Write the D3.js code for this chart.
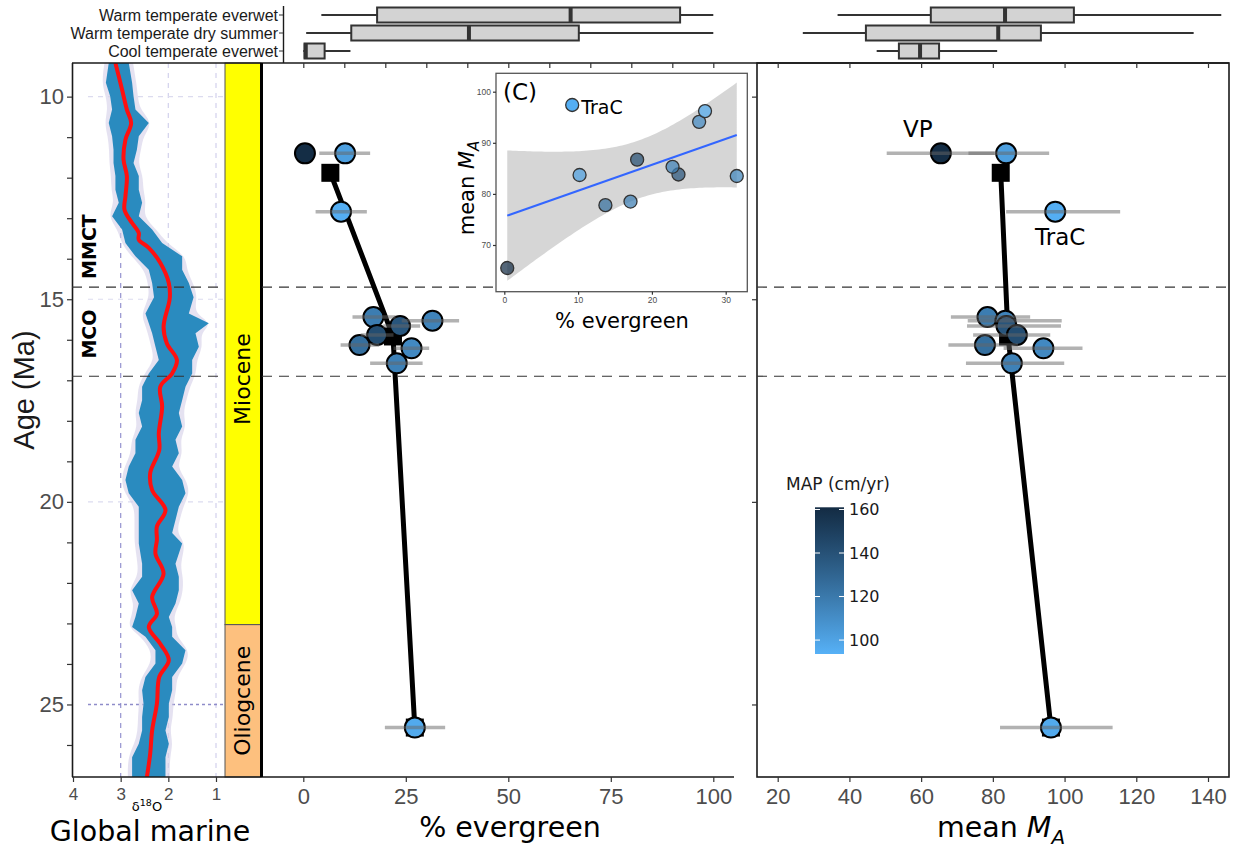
<!DOCTYPE html>
<head>
  <meta charset="utf-8">
  <script src="https://d3js.org/d3.v7.min.js"></script>
  <style>
    body { margin: 0; background: #fff; }
    text { font-family: "DejaVu Sans", Verdana, sans-serif; }
    .axis text { font-family: "Liberation Sans", Arial, sans-serif; fill: #4d4d4d; }
    .axis line { stroke: #333; stroke-width: 1.2px; }
    .axis path { display: none; }
  </style>
</head>
<body>
<svg id="fig" width="1239" height="848"></svg>
<script>

// ---- data ----
// global marine d18O stack
var isoAge  = [9.17, 9.66, 9.99, 10.32, 10.65, 10.98, 11.31, 11.64, 11.96, 12.30, 12.62, 12.95, 13.28, 13.61, 13.94,
               14.27, 14.60, 14.95, 15.35, 15.59, 15.84, 16.17, 16.50, 16.83, 17.16, 17.49, 17.81, 18.14, 18.47, 18.80,
               19.13, 19.46, 19.79, 20.12, 20.45, 20.77, 21.03, 21.53, 21.85, 22.18, 22.51, 22.84, 23.09, 23.33, 23.66,
               23.99, 24.32, 24.65, 24.98, 25.31, 25.64, 25.97, 26.30, 26.79];
var isoHigh = [3.25, 3.31, 3.22, 3.18, 3.25, 3.18, 3.15, 3.15, 3.11, 3.11, 3.04, 3.18, 2.97, 2.90, 2.69,
               2.41, 2.34, 2.30, 2.48, 2.41, 2.34, 2.27, 2.20, 2.41, 2.55, 2.55, 2.62, 2.55, 2.69, 2.69,
               2.83, 2.90, 2.83, 2.62, 2.62, 2.62, 2.62, 2.55, 2.55, 2.76, 2.62, 2.69, 2.76, 2.48, 2.27,
               2.27, 2.48, 2.55, 2.52, 2.55, 2.55, 2.62, 2.76, 2.76];
var isoLow  = [2.83, 2.76, 2.73, 2.69, 2.41, 2.62, 2.66, 2.73, 2.62, 2.62, 2.55, 2.62, 2.34, 2.13, 1.71,
               1.71, 1.57, 1.47, 1.57, 1.15, 1.43, 1.36, 1.50, 1.50, 1.64, 1.71, 1.78, 1.71, 1.85, 1.78,
               1.92, 1.71, 1.64, 1.78, 1.85, 1.92, 1.71, 1.85, 1.78, 1.78, 1.85, 1.99, 1.92, 1.92, 1.64,
               1.71, 1.92, 1.92, 1.99, 1.99, 2.06, 1.99, 2.06, 2.06];
var smoothAge = [9.17, 9.83, 10.32, 10.65, 11.06, 11.55, 11.96, 12.46, 12.79, 13.12, 13.36, 13.53, 13.73, 14.10, 14.60,
                 14.97, 15.68, 16.09, 16.50, 16.83, 17.16, 17.65, 18.31, 18.72, 19.29, 19.71, 20.20, 20.61, 20.94, 21.28,
                 21.77, 22.35, 22.76, 23.09, 23.50, 23.91, 24.32, 24.98, 25.64, 26.21, 26.79];
var smoothD18 = [3.11, 2.97, 2.87, 2.78, 2.90, 2.94, 2.87, 2.90, 2.92, 2.76, 2.62, 2.62, 2.41, 2.17, 1.99,
                 1.97, 2.10, 2.03, 1.82, 1.92, 2.17, 2.13, 2.20, 2.19, 2.38, 2.34, 2.06, 2.24, 2.24, 2.27,
                 2.10, 2.34, 2.24, 2.41, 2.17, 1.99, 2.19, 2.24, 2.34, 2.38, 2.45];

var epochName  = ["Miocene", "Oliogcene"];
var epochStart = [5.33, 23.03];
var epochEnd   = [23.03, 33.9];
var epochLabelAge = [16.97, 24.91];
var eventName = ["MMCT", "MCO"];
var eventAge  = [13.70, 15.86];
var mcoBounds = [14.7, 16.9];

// fossil sites
var siteLabel   = ["VP", "", "TraC", "", "", "", "", "", "", "", ""];
var siteGroup   = [1, 1, 1, 2, 2, 2, 2, 2, 2, 2, 3];
var siteAge     = [11.40, 11.40, 12.84, 15.44, 15.53, 15.66, 15.88, 16.13, 16.21, 16.58, 25.57];
var evergreen   = [0.4, 10.2, 9.2, 17.1, 31.5, 23.6, 18.0, 13.7, 26.4, 22.8, 27.2];
var evergreenLo = [0.4, 3.9, 3.0, 12.0, 24.0, 19.5, 14.0, 9.1, 22.0, 16.3, 19.9];
var evergreenHi = [0.4, 16.3, 15.5, 22.5, 38.0, 28.5, 22.0, 18.5, 30.7, 29.1, 34.6];
var meanMA      = [65.5, 83.7, 97.4, 78.5, 83.5, 83.8, 86.7, 77.8, 94.1, 85.3, 96.2];
var meanMALo    = [50.4, 73.2, 83.7, 68.3, 73.0, 72.8, 74.5, 67.6, 83.0, 72.5, 82.0];
var meanMAHi    = [80.5, 95.7, 115.5, 90.4, 99.2, 99.0, 96.0, 87.0, 105.0, 99.9, 113.4];
var mapCm       = [160, 102, 95, 118, 115, 138, 142, 125, 112, 116, 97];

// modern climate zones: [min, q1, median, q3, max]
var climateZones = ["Warm temperate everwet", "Warm temperate dry summer", "Cool temperate everwet"];
var everBox = [[4.4, 18.0, 65.2, 91.9, 100], [0.7, 11.7, 40.4, 67.2, 100], [0, 0.3, 0.6, 5.2, 11.5]];
var maBox   = [[36.7, 62.7, 83.4, 102.6, 143.7], [27.0, 44.6, 81.5, 93.4, 136.0], [47.6, 53.8, 59.7, 65.0, 81.2]];

var mapTicks = [100, 120, 140, 160];

// ---- scales ----
var svg = d3.select("#fig");
var yTop = 63, yBot = 777;

var yAge = d3.scaleLinear().domain([9.17, 26.79]).range([yTop, yBot]);
var xIso = d3.scaleLinear().domain([4, 1]).range([73, 216]);
var xEver = d3.scaleLinear().domain([0, 100]).range([303.3, 713.3]);
var xMA = d3.scaleLinear().domain([20, 140]).range([777.7, 1208]);
var yZone = d3.scalePoint().domain(climateZones).range([15, 51]);
var mapColor = d3.scaleLinear().domain([93.6, 161]).range(["#56B1F7", "#132B43"]).interpolate(d3.interpolateLab);
var idx = d3.range(siteAge.length);

// ---- d18O panel ----
svg.append("clipPath").attr("id", "isoclip")
  .append("rect").attr("x", 72).attr("y", yTop).attr("width", 153).attr("height", yBot - yTop);

var iso = svg.append("g").attr("clip-path", "url(#isoclip)");

iso.selectAll(".vg").data([3, 2, 1]).enter().append("line")
    .attr("x1", d => xIso(d)).attr("x2", d => xIso(d))
    .attr("y1", yTop).attr("y2", yBot)
    .attr("stroke", d => d == 3 ? "#9d9bd3" : "#d6d5ee")
    .attr("stroke-width", 1.3)
    .attr("stroke-dasharray", "5,5");

iso.selectAll(".hg").data([10, 15, 20, 25]).enter().append("line")
    .attr("x1", 88).attr("x2", 225)
    .attr("y1", d => yAge(d)).attr("y2", d => yAge(d))
    .attr("stroke", d => d == 25 ? "#8e8cc9" : "#dcdbef")
    .attr("stroke-width", d => d == 25 ? 1.6 : 1.2)
    .attr("stroke-dasharray", d => d == 25 ? "3,3" : "5,5");

var haloArea = d3.area()
    .y(i => yAge(isoAge[i]))
    .x0(i => xIso(isoHigh[i] + 0.09))
    .x1(i => xIso(isoLow[i] - 0.09))
    .curve(d3.curveBasis);

var bandArea = d3.area()
    .y(i => yAge(isoAge[i]))
    .x0(i => xIso(isoHigh[i]))
    .x1(i => xIso(isoLow[i]))
    .curve(d3.curveLinear);

var bi = d3.range(isoAge.length);
iso.append("path").datum(bi).attr("d", haloArea)
    .attr("fill", "#d3cee8").attr("opacity", 0.6);
iso.append("path").datum(bi).attr("d", bandArea)
    .attr("fill", "#2a8bbf");

iso.append("path").datum(d3.range(smoothAge.length))
    .attr("d", d3.line().x(i => xIso(smoothD18[i])).y(i => yAge(smoothAge[i])).curve(d3.curveCatmullRom))
    .attr("fill", "none").attr("stroke", "#ff1010").attr("stroke-width", 4);

svg.selectAll(".ev").data(eventName).enter().append("text")
    .attr("transform", (d, i) => "translate(96," + yAge(eventAge[i]) + ") rotate(-90)")
    .attr("text-anchor", "middle")
    .attr("font-weight", "bold").attr("font-size", 19)
    .text(d => d);

// epoch column
var epochFill = ["#ffff00", "#fdc07e"];
var ageDom = yAge.domain();
svg.selectAll(".ep").data(epochName).enter().append("rect")
    .attr("x", 225).attr("width", 36)
    .attr("y", (d, i) => yAge(Math.max(epochStart[i], ageDom[0])))
    .attr("height", (d, i) => yAge(Math.min(epochEnd[i], ageDom[1])) - yAge(Math.max(epochStart[i], ageDom[0])))
    .attr("fill", (d, i) => epochFill[i])
    .attr("stroke", "#555").attr("stroke-width", 1);

svg.selectAll(".epl").data(epochName).enter().append("text")
    .attr("transform", (d, i) => "translate(250," + yAge(epochLabelAge[i]) + ") rotate(-90)")
    .attr("text-anchor", "middle").attr("font-size", 22)
    .text(d => d);

// ---- frames ----
svg.append("line").attr("x1", 72).attr("x2", 1229).attr("y1", yTop).attr("y2", yTop)
    .attr("stroke", "#1a1a1a").attr("stroke-width", 1.6);
svg.append("line").attr("x1", 72).attr("x2", 734).attr("y1", yBot).attr("y2", yBot)
    .attr("stroke", "#1a1a1a").attr("stroke-width", 1.6);
svg.append("line").attr("x1", 72.5).attr("x2", 72.5).attr("y1", yTop).attr("y2", yBot)
    .attr("stroke", "#1a1a1a").attr("stroke-width", 1.6);
svg.append("line").attr("x1", 261.5).attr("x2", 261.5).attr("y1", yTop).attr("y2", yBot)
    .attr("stroke", "#000").attr("stroke-width", 3);
svg.append("rect").attr("x", 757).attr("y", yTop).attr("width", 472).attr("height", yBot - yTop)
    .attr("fill", "none").attr("stroke", "#1a1a1a").attr("stroke-width", 1.6);

// MCO boundaries
var dashSpans = [[72, 222], [262, 746], [757, 1229]];
dashSpans.forEach(function(s) {
  svg.selectAll(null).data(mcoBounds).enter().append("line")
      .attr("x1", s[0]).attr("x2", s[1])
      .attr("y1", d => yAge(d)).attr("y2", d => yAge(d))
      .attr("stroke", "#333").attr("stroke-width", 1.2)
      .attr("stroke-dasharray", "10,7");
});

// ---- axes ----
svg.append("g").attr("class", "axis").attr("transform", "translate(72,0)")
    .call(d3.axisLeft(yAge).tickValues(d3.range(10, 27)).tickFormat(d => d % 5 == 0 ? d : "")
      .tickSize(5).tickPadding(3))
    .selectAll("text").attr("font-size", 22);

svg.append("g").attr("class", "axis").attr("transform", "translate(0," + yBot + ")")
    .call(d3.axisBottom(xIso).tickValues([4, 3, 2, 1]).tickFormat(d3.format("d")).tickSize(5).tickPadding(6))
    .selectAll("text").attr("font-size", 17);

svg.append("g").attr("class", "axis").attr("transform", "translate(0," + yBot + ")")
    .call(d3.axisBottom(xEver).tickValues([0, 25, 50, 75, 100]).tickSize(5).tickPadding(6))
    .selectAll("text").attr("font-size", 22);

svg.append("g").attr("class", "axis").attr("transform", "translate(0," + yBot + ")")
    .call(d3.axisBottom(xMA).tickValues(d3.range(20, 141, 20)).tickSize(5).tickPadding(6))
    .selectAll("text").attr("font-size", 22);

svg.append("g").attr("class", "axis").attr("transform", "translate(757,0)")
    .call(d3.axisLeft(yAge).tickValues([10, 15, 20, 25]).tickFormat("").tickSize(5));

// top ticks belong to the box plots
svg.append("g").attr("class", "axis").attr("transform", "translate(0," + yTop + ")")
    .call(d3.axisBottom(xEver).tickValues(d3.range(0, 101, 10)).tickFormat("").tickSize(5));
svg.append("g").attr("class", "axis").attr("transform", "translate(0," + yTop + ")")
    .call(d3.axisBottom(xMA).tickValues(d3.range(20, 141, 20)).tickFormat("").tickSize(5));

// axis titles
svg.append("text")
    .attr("transform", "translate(34,390) rotate(-90)")
    .attr("text-anchor", "middle").attr("font-size", 29)
    .style("font-family", "'Liberation Sans', Arial, sans-serif").attr("fill", "#1a1a1a")
    .text("Age (Ma)");

var d18 = svg.append("text").attr("x", 147).attr("y", 811).attr("text-anchor", "middle").attr("font-size", 13);
d18.append("tspan").text("δ");
d18.append("tspan").attr("font-size", 9.5).attr("dy", -5).text("18");
d18.append("tspan").attr("dy", 5).text("O");

svg.append("text").attr("x", 150).attr("y", 841).attr("text-anchor", "middle").attr("font-size", 28.5)
    .text("Global marine");
svg.append("text").attr("x", 510).attr("y", 837).attr("text-anchor", "middle").attr("font-size", 28.5)
    .text("% evergreen");

var maTitle = svg.append("text").attr("x", 1001).attr("y", 837).attr("text-anchor", "middle").attr("font-size", 28.5);
maTitle.append("tspan").text("mean ");
maTitle.append("tspan").attr("font-style", "italic").text("M");
maTitle.append("tspan").attr("font-style", "italic").attr("font-size", 20).attr("dy", 7).text("A");

// ---- box plots (top strip) ----
function drawBoxes(stats, x) {
  var g = svg.append("g");
  stats.forEach(function(s, i) {
    var cy = yZone(climateZones[i]);
    g.append("line").attr("x1", x(s[0])).attr("x2", x(s[1])).attr("y1", cy).attr("y2", cy)
        .attr("stroke", "#333").attr("stroke-width", 2);
    g.append("line").attr("x1", x(s[3])).attr("x2", x(s[4])).attr("y1", cy).attr("y2", cy)
        .attr("stroke", "#333").attr("stroke-width", 2);
    g.append("rect").attr("x", x(s[1])).attr("width", x(s[3]) - x(s[1]))
        .attr("y", cy - 7.5).attr("height", 15)
        .attr("fill", "#d3d3d3").attr("stroke", "#333").attr("stroke-width", 2);
    g.append("line").attr("x1", x(s[2])).attr("x2", x(s[2])).attr("y1", cy - 7.5).attr("y2", cy + 7.5)
        .attr("stroke", "#333").attr("stroke-width", 4);
  });
}
drawBoxes(everBox, xEver);
drawBoxes(maBox, xMA);

svg.append("line").attr("x1", 283.5).attr("x2", 283.5).attr("y1", 6).attr("y2", yTop)
    .attr("stroke", "#1a1a1a").attr("stroke-width", 1.4);
svg.selectAll(".zl").data(climateZones).enter().append("text")
    .attr("x", 278).attr("y", d => yZone(d)).attr("dy", "0.35em")
    .attr("text-anchor", "end").attr("font-size", 16).attr("fill", "#1a1a1a")
    .style("font-family", "'Liberation Sans', Arial, sans-serif")
    .text(d => d);
svg.selectAll(".zt").data(climateZones).enter().append("line")
    .attr("x1", 279).attr("x2", 283).attr("y1", d => yZone(d)).attr("y2", d => yZone(d))
    .attr("stroke", "#333");

// ---- site panels ----
function drawSites(x, val, lo, hi) {
  var g = svg.append("g");
  var means = d3.groups(idx, i => siteGroup[i]).map(function(gr) {
    return { x: d3.mean(gr[1], i => val[i]), age: d3.mean(gr[1], i => siteAge[i]) };
  });
  g.append("path").datum(means)
      .attr("d", d3.line().x(d => x(d.x)).y(d => yAge(d.age)))
      .attr("fill", "none").attr("stroke", "#000").attr("stroke-width", 5);
  g.selectAll(".sq").data(means).enter().append("rect")
      .attr("x", d => x(d.x) - 9).attr("y", d => yAge(d.age) - 9)
      .attr("width", 18).attr("height", 18).attr("fill", "#000");
  g.selectAll(".pt").data(idx).enter().append("circle")
      .attr("cx", i => x(val[i])).attr("cy", i => yAge(siteAge[i])).attr("r", 10)
      .attr("fill", i => mapColor(mapCm[i]))
      .attr("stroke", "#000").attr("stroke-width", 2);
  g.selectAll(".eb").data(idx.filter(i => hi[i] > lo[i])).enter().append("line")
      .attr("x1", i => x(lo[i])).attr("x2", i => x(hi[i]))
      .attr("y1", i => yAge(siteAge[i])).attr("y2", i => yAge(siteAge[i]))
      .attr("stroke", "#666").attr("stroke-opacity", 0.5).attr("stroke-width", 3.5);
  return g;
}
drawSites(xEver, evergreen, evergreenLo, evergreenHi);
var maG = drawSites(xMA, meanMA, meanMALo, meanMAHi);

var labelOffset = { "VP": [-23, -16], "TraC": [5, 33] };
maG.selectAll(".lab").data(idx.filter(i => siteLabel[i] != "")).enter().append("text")
    .attr("x", i => xMA(meanMA[i]) + labelOffset[siteLabel[i]][0])
    .attr("y", i => yAge(siteAge[i]) + labelOffset[siteLabel[i]][1])
    .attr("text-anchor", "middle").attr("font-size", 23)
    .text(i => siteLabel[i]);

// ---- colour bar ----
var defs = svg.append("defs");
var grad = defs.append("linearGradient").attr("id", "mapgrad")
    .attr("x1", 0).attr("x2", 0).attr("y1", 1).attr("y2", 0);
d3.range(0, 1.001, 0.1).forEach(function(t) {
  var v = mapColor.domain()[0] + t * (mapColor.domain()[1] - mapColor.domain()[0]);
  grad.append("stop").attr("offset", t).attr("stop-color", mapColor(v));
});
var yBar = d3.scaleLinear().domain(mapColor.domain()).range([654, 507.3]);
svg.append("rect").attr("x", 815).attr("y", yBar(mapColor.domain()[1]))
    .attr("width", 29).attr("height", yBar(mapColor.domain()[0]) - yBar(mapColor.domain()[1]))
    .attr("fill", "url(#mapgrad)");
svg.selectAll(".ct").data(mapTicks).enter().append("path")
    .attr("d", d => "M815," + yBar(d) + "h5M844," + yBar(d) + "h-5")
    .attr("stroke", "#fff").attr("stroke-width", 1);
svg.selectAll(".cl").data(mapTicks).enter().append("text")
    .attr("x", 849).attr("y", d => yBar(d)).attr("dy", "0.36em")
    .attr("font-size", 16).attr("fill", "#1a1a1a").text(d => d);
svg.append("text").attr("x", 786).attr("y", 490).attr("font-size", 17).attr("fill", "#1a1a1a")
    .text("MAP (cm/yr)");

// ---- inset (C) ----
var xIn = d3.scaleLinear().domain([0, 30]).range([504.3, 725.7]);
var yIn = d3.scaleLinear().domain([70, 100]).range([245, 91.7]);
var inset = svg.append("g");
inset.append("rect").attr("x", 496).attr("y", 73.3).attr("width", 251.3).attr("height", 218.4)
    .attr("fill", "#fff").attr("stroke", "#555").attr("stroke-width", 1.3);

// linear fit with 95% band, like geom_smooth(method = "lm")
var n = evergreen.length;
var mx = d3.mean(evergreen), my = d3.mean(meanMA);
var sxx = d3.sum(evergreen, x => (x - mx) * (x - mx));
var sxy = d3.sum(evergreen, (x, i) => (x - mx) * (meanMA[i] - my));
var slope = sxy / sxx, icpt = my - slope * mx;
var sse = d3.sum(evergreen, (x, i) => Math.pow(meanMA[i] - icpt - slope * x, 2));
var sres = Math.sqrt(sse / (n - 2));
var tCrit = 2.262; // df = 9
var xmin = d3.min(evergreen), xmax = d3.max(evergreen);
var fitX = d3.range(0, 81).map(k => xmin + k * (xmax - xmin) / 80);
function seAt(x) { return sres * Math.sqrt(1 / n + (x - mx) * (x - mx) / sxx); }

inset.append("path").datum(fitX)
    .attr("d", d3.area().x(x => xIn(x))
      .y0(x => yIn(icpt + slope * x - tCrit * seAt(x)))
      .y1(x => yIn(icpt + slope * x + tCrit * seAt(x))))
    .attr("fill", "#999").attr("fill-opacity", 0.4);
inset.append("line")
    .attr("x1", xIn(xmin)).attr("x2", xIn(xmax))
    .attr("y1", yIn(icpt + slope * xmin)).attr("y2", yIn(icpt + slope * xmax))
    .attr("stroke", "#3366ff").attr("stroke-width", 2);

inset.selectAll(".ip").data(idx).enter().append("circle")
    .attr("cx", i => xIn(evergreen[i])).attr("cy", i => yIn(meanMA[i])).attr("r", 6.5)
    .attr("fill", i => mapColor(mapCm[i]))
    .attr("fill-opacity", i => siteLabel[i] == "TraC" ? 1 : 0.72)
    .attr("stroke", "#333").attr("stroke-width", 1.3);

inset.selectAll(".il").data(idx.filter(i => siteLabel[i] == "TraC")).enter().append("text")
    .attr("x", i => xIn(evergreen[i]) + 9).attr("y", i => yIn(meanMA[i]) + 2).attr("dy", "0.36em")
    .attr("font-size", 19).text(i => siteLabel[i]);

inset.append("g").attr("class", "axis").attr("transform", "translate(0,291.7)")
    .call(d3.axisBottom(xIn).tickValues([0, 10, 20, 30]).tickSize(3).tickPadding(2.5))
    .selectAll("text").attr("font-size", 8.5);
inset.append("g").attr("class", "axis").attr("transform", "translate(496,0)")
    .call(d3.axisLeft(yIn).tickValues([70, 80, 90, 100]).tickSize(3).tickPadding(2))
    .selectAll("text").attr("font-size", 8.5);
inset.selectAll(".axis line").attr("stroke", "#555").attr("stroke-width", 1);

inset.append("text").attr("x", 503).attr("y", 92).attr("dy", "0.36em").attr("font-size", 23).text("(C)");
inset.append("text").attr("x", 622).attr("y", 328).attr("text-anchor", "middle").attr("font-size", 21)
    .text("% evergreen");
var inY = inset.append("text").attr("transform", "translate(474,188) rotate(-90)")
    .attr("text-anchor", "middle").attr("font-size", 21);
inY.append("tspan").text("mean ");
inY.append("tspan").attr("font-style", "italic").text("M");
inY.append("tspan").attr("font-style", "italic").attr("font-size", 15).attr("dy", 5).text("A");

</script>
</body>
</html>
